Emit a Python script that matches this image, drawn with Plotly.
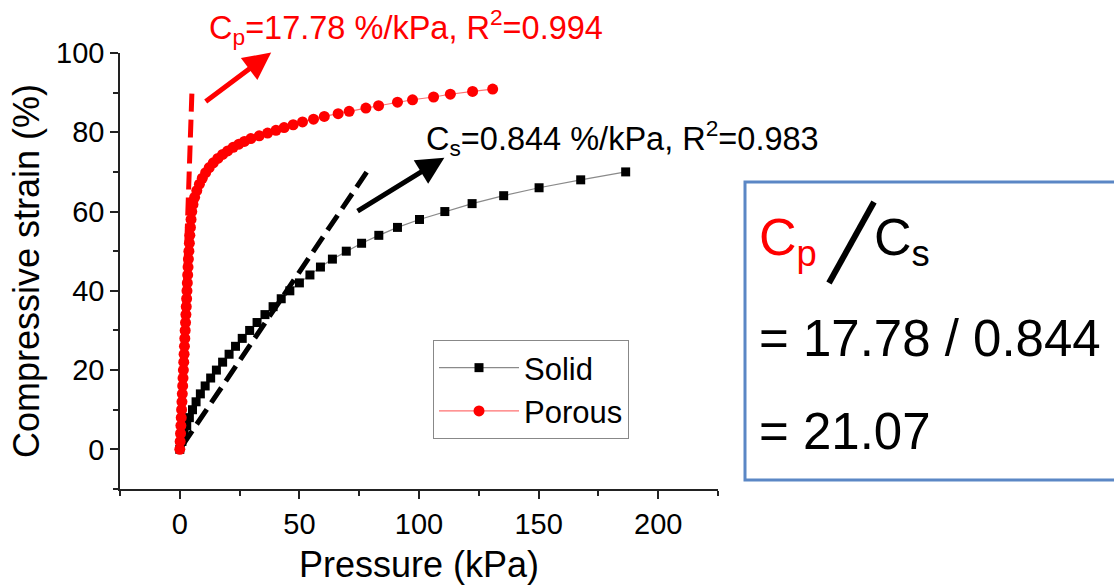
import plotly.graph_objects as go

# ---------------- data ----------------
solid_x = [0, 0.9, 1.8, 2.9, 4.0, 5.3, 6.8, 8.6, 10.6, 12.9, 15.3, 17.9, 20.6, 23.3, 26.1,
           29.2, 32.3, 35.6, 39.0, 42.4, 46.0, 50.0, 54.4, 58.8, 63.8, 69.6, 76.0, 83.2,
           91.0, 100.2, 110.8, 122.2, 135.4, 150.2, 167.6, 186.4]
solid_y = [0, 2, 4, 6, 8, 10, 12, 14, 16, 18, 20, 22, 24, 26, 28, 30, 32, 34, 36, 38, 40,
           42, 44, 46, 48, 50, 52, 54, 56, 58, 60, 62, 64, 66, 68, 70]

porous_x = [0, 0.15, 0.3, 0.45, 0.6, 0.75, 0.9, 1.05, 1.2, 1.35, 1.5, 1.65, 1.8, 1.95, 2.1,
            2.25, 2.4, 2.55, 2.7, 2.85, 3.0, 3.15, 3.3, 3.45, 3.6, 3.8, 4.0, 4.2, 4.45, 4.7,
            5.0, 5.5, 6.2, 7.1, 8.2, 9.4, 10.8, 12.3, 14.0, 15.9, 17.9, 20.0, 22.3, 24.7,
            27.0, 29.7, 33.2, 36.7, 40.2, 43.6, 47.4, 51.3, 55.9, 60.4, 66.2, 70.8, 77.8,
            83.1, 91.0, 97.3, 106.1, 113.1, 122.4, 130.8]
porous_y = [0, 2, 4, 6, 8, 10, 12, 14, 16, 18, 20, 22, 24, 26, 28, 30, 32, 34, 36, 38, 40,
            42, 44, 46, 48, 50, 52, 54, 56, 58, 60, 61.8, 63.6, 65.3, 66.9, 68.4, 69.8, 71.1,
            72.3, 73.4, 74.4, 75.3, 76.2, 77.0, 77.7, 78.4, 79.1, 79.8, 80.5, 81.2, 81.9,
            82.6, 83.3, 84.0, 84.7, 85.3, 86.1, 86.7, 87.6, 88.2, 88.9, 89.6, 90.3, 90.9]

# linear fits (end points)
fit_solid_x = [1.0, 79.2]
fit_solid_y = [0.9, 70.9]
fit_porous_x = [0, 5.06]
fit_porous_y = [0, 90.0]

# arrow (head, tail) positions in data units
arrow_p = dict(head=(38.2, 100.1), tail=(10.2, 87.5))
arrow_s = dict(head=(110.6, 73.6), tail=(73.7, 59.9))

label_p = "C<sub>p</sub>=17.78 %/kPa, R<sup>2</sup>=0.994"
label_s = "C<sub>s</sub>=0.844 %/kPa, R<sup>2</sup>=0.983"
ratio_line1 = "= 17.78 / 0.844"
ratio_line2 = "= 21.07"

FONT = "Liberation Sans, Arial, sans-serif"

W, H = 1114, 585
# plot area in pixels
L, R, T, B = 120, 718, 53, 489


def px(p):
    return (p - L) / (R - L)


def py(p):
    return (B - p) / (B - T)


fig = go.Figure()

fig.add_trace(go.Scatter(x=fit_porous_x, y=fit_porous_y, mode="lines", showlegend=False,
                         line=dict(color="#ff0000", width=5, dash="18px,8px"), hoverinfo="skip"))
fig.add_trace(go.Scatter(x=fit_solid_x, y=fit_solid_y, mode="lines", showlegend=False,
                         line=dict(color="#000000", width=5, dash="18px,8px"), hoverinfo="skip"))

fig.add_trace(go.Scatter(x=solid_x, y=solid_y, mode="lines+markers", name="Solid",
                         line=dict(color="#8a8a8a", width=1.2),
                         marker=dict(symbol="square", size=9, color="#000000")))
fig.add_trace(go.Scatter(x=porous_x, y=porous_y, mode="lines+markers", name="Porous",
                         line=dict(color="#ff7070", width=1.2),
                         marker=dict(symbol="circle", size=11, color="#ff0000")))

# arrows
for arr, col in ((arrow_p, "#ff0000"), (arrow_s, "#000000")):
    fig.add_annotation(x=arr["head"][0], y=arr["head"][1], ax=arr["tail"][0], ay=arr["tail"][1],
                       xref="x", yref="y", axref="x", ayref="y", text="", showarrow=True,
                       arrowhead=2, arrowsize=1.1, arrowwidth=5, arrowcolor=col)

# fit labels
fig.add_annotation(x=px(207), y=py(27), xref="paper", yref="paper", text=label_p,
                   showarrow=False, xanchor="left", yanchor="middle",
                   font=dict(family=FONT, size=32.5, color="#ff0000"))
fig.add_annotation(x=px(424), y=py(138), xref="paper", yref="paper", text=label_s,
                   showarrow=False, xanchor="left", yanchor="middle",
                   font=dict(family=FONT, size=32.5, color="#000000"))

# ratio box
fig.add_shape(type="rect", xref="paper", yref="paper", x0=px(745), x1=px(1180),
              y0=py(480), y1=py(182), line=dict(color="#5b87c5", width=3),
              fillcolor="rgba(0,0,0,0)")
fig.add_shape(type="line", xref="paper", yref="paper", x0=px(829), y0=py(283),
              x1=px(874), y1=py(202), line=dict(color="#000000", width=6))
fig.add_annotation(x=px(757), y=py(241), xref="paper", yref="paper", text="C<sub>p</sub>",
                   showarrow=False, xanchor="left", yanchor="middle",
                   font=dict(family=FONT, size=52, color="#ff0000"))
fig.add_annotation(x=px(872), y=py(241), xref="paper", yref="paper", text="C<sub>s</sub>",
                   showarrow=False, xanchor="left", yanchor="middle",
                   font=dict(family=FONT, size=52, color="#000000"))
fig.add_annotation(x=px(757), y=py(338), xref="paper", yref="paper", text=ratio_line1,
                   showarrow=False, xanchor="left", yanchor="middle",
                   font=dict(family=FONT, size=51, color="#000000"))
fig.add_annotation(x=px(757), y=py(431), xref="paper", yref="paper", text=ratio_line2,
                   showarrow=False, xanchor="left", yanchor="middle",
                   font=dict(family=FONT, size=51, color="#000000"))

axis_common = dict(showline=True, linecolor="#222222", linewidth=1.5, ticks="outside",
                   ticklen=8, tickwidth=1.5, tickcolor="#222222", showgrid=False,
                   zeroline=False, tickfont=dict(family=FONT, size=29, color="#000000"),
                   mirror=False, automargin=False)

fig.update_xaxes(range=[-25, 225], tick0=0, dtick=50,
                 minor=dict(dtick=25, tick0=0, ticks="outside", ticklen=5, tickwidth=1.5,
                            tickcolor="#222222", showgrid=False),
                 title=dict(text="Pressure (kPa)", standoff=17,
                            font=dict(family=FONT, size=36, color="#000000")),
                 **axis_common)
fig.update_yaxes(range=[-10, 100], tick0=0, dtick=20,
                 minor=dict(dtick=10, tick0=0, ticks="outside", ticklen=5, tickwidth=1.5,
                            tickcolor="#222222", showgrid=False),
                 title=dict(text="Compressive strain (%)", standoff=5,
                            font=dict(family=FONT, size=36, color="#000000")),
                 **axis_common)

fig.update_layout(
    width=W, height=H,
    margin=dict(l=L, r=W - R, t=T, b=H - B),
    paper_bgcolor="white", plot_bgcolor="white",
    font=dict(family=FONT, color="#000000"),
    legend=dict(x=px(433), y=py(340), xanchor="left", yanchor="top",
                bgcolor="white", bordercolor="#888888", borderwidth=1,
                font=dict(family=FONT, size=31, color="#000000"),
                itemwidth=80, tracegroupgap=0),
)

# remove the default page margin so the figure sits at the window's top-left corner
fig.write_html("out.html", config={"displayModeBar": False},
               post_script="document.body.style.margin='0';document.body.style.overflow='hidden';")
